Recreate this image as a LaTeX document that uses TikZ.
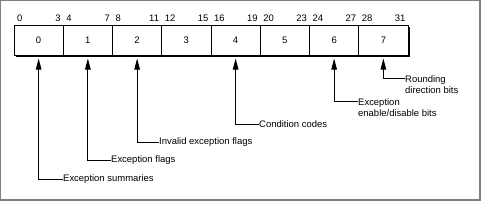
\documentclass[tikz,border=0pt]{standalone}
\usepackage{fontspec}
\setmainfont{Liberation Sans}
\usetikzlibrary{arrows.meta}

\tikzset{
  cellbox/.style={draw,line width=1bp,minimum width=49.25bp,minimum height=30bp,
    inner sep=0pt,font=\fontsize{9.5}{11}\selectfont},
  bitnum/.style={inner sep=0pt,font=\fontsize{9.5}{11}\selectfont},
  fieldtext/.style={anchor=west,inner sep=0.5bp,align=left,
    font=\fontsize{9.5}{11}\selectfont},
  pointer/.style={line width=1bp,-{Triangle[length=11bp,width=5.5bp]}}
}

\begin{document}
\begin{tikzpicture}[x=1bp,y=-1bp]
    \useasboundingbox (0,0) rectangle (481,201);
    % window frame
    \fill[black!50] (0,0) rectangle (481,201);
    \fill[white] (1,1) rectangle (478.5,198.5);

    % register fields
    \foreach \i in {0,...,7}{
      \node[cellbox] (c\i) at (38.625+49.25*\i,40) {\i};
      \pgfmathtruncatemacro{\lo}{4*\i}
      \pgfmathtruncatemacro{\hi}{4*\i+3}
      \node[bitnum,anchor=west] (lo\i) at ([shift={(3.5bp,6.5bp)}]c\i.north west) {\lo};
      \node[bitnum,anchor=east] (hi\i) at ([shift={(-3bp,6.5bp)}]c\i.north east) {\hi};
    }
    % shadow of the register
    \draw[line width=1.5bp] ([xshift=2bp,yshift=-1.2bp]c0.south west) -- ([xshift=1.2bp,yshift=-1.2bp]c7.south east)
      -- ([xshift=1.2bp,yshift=-2bp]c7.north east);

    % field descriptions
    \node[fieldtext] (l0) at (62.5,179) {Exception summaries};
    \node[fieldtext] (l1) at (110.5,160) {Exception flags};
    \node[fieldtext] (l2) at (158.5,142.3) {Invalid exception flags};
    \node[fieldtext] (l4) at (258.5,124) {Condition codes};
    \node[fieldtext] (l6) at (357.5,108) {Exception\\enable/disable bits};
    \node[fieldtext] (l7) at (404.5,84.5) {Rounding\\direction bits};

    \draw[pointer] (l0.west) -| ([yshift=-3bp]c0.south);
    \draw[pointer] (l1.west) -| ([yshift=-3bp]c1.south);
    \draw[pointer] (l2.west) -| ([yshift=-3bp]c2.south);
    \draw[pointer] (l4.west) -| ([yshift=-3bp]c4.south);
    \draw[pointer] ([yshift=6.3bp]l6.west) -| ([yshift=-3bp]c6.south);
    \draw[pointer] ([yshift=6.5bp]l7.west) -| ([yshift=-3bp]c7.south);
  \end{tikzpicture}
\end{document}
